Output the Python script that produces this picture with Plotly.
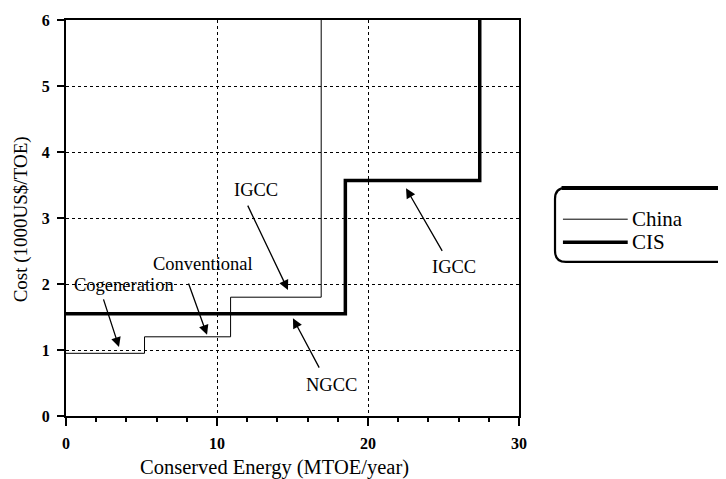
import plotly.graph_objects as go

# China supply curve: cumulative conserved energy (MTOE/year) at step starts, cost (1000 US$/TOE)
china_energy = [0, 5.2, 10.9, 16.9]
china_cost = [0.95, 1.2, 1.8, 6.0]
# CIS supply curve
cis_energy = [0, 18.5, 27.4]
cis_cost = [1.55, 3.57, 6.0]

x_ticks = [0, 10, 20, 30]
y_ticks = [0, 1, 2, 3, 4, 5, 6]

# annotation labels: text, text position, arrow tail, arrow tip (data coords)
labels = ["Cogeneration", "Conventional", "IGCC", "NGCC", "IGCC"]
label_x = [3.84, 9.10, 12.58, 17.55, 25.70]
label_y = [1.99, 2.30, 3.42, 0.47, 2.26]
tail_x = [2.45, 8.08, 11.99, 16.82, 24.97]
tail_y = [1.79, 2.03, 3.21, 0.71, 2.48]
tip_x = [3.51, 9.34, 14.70, 15.03, 22.52]
tip_y = [1.045, 1.23, 1.91, 1.48, 3.45]

FONT = "Liberation Serif"

fig = go.Figure()
fig.add_trace(go.Scatter(x=china_energy, y=china_cost, mode="lines", line_shape="hv",
                         line=dict(color="black", width=1), name="China", cliponaxis=False))
fig.add_trace(go.Scatter(x=cis_energy, y=cis_cost, mode="lines", line_shape="hv",
                         line=dict(color="black", width=3.5), name="CIS", cliponaxis=False))

for t, lx, ly, ax, ay, px, py in zip(labels, label_x, label_y, tail_x, tail_y, tip_x, tip_y):
    fig.add_annotation(x=lx, y=ly, text=t, showarrow=False, xanchor="center", yanchor="middle",
                       font=dict(family=FONT, size=18.5, color="black"))
    fig.add_annotation(x=px, y=py, ax=ax, ay=ay, axref="x", ayref="y", text="",
                       showarrow=True, arrowhead=2, arrowsize=1.5, arrowwidth=1.3,
                       arrowcolor="black")

# axis titles
fig.add_annotation(x=0.461, y=-0.129, xref="paper", yref="paper", showarrow=False,
                   xanchor="center", yanchor="middle",
                   text="Conserved Energy (MTOE/year)",
                   font=dict(family=FONT, size=20.5, color="black"))
fig.add_annotation(x=-0.099, y=0.497, xref="paper", yref="paper", showarrow=False,
                   xanchor="center", yanchor="middle",
                   text="Cost (1000US$/TOE)", textangle=-90,
                   font=dict(family=FONT, size=19, color="black"))

# legend box (drawn manually)
L, R, T, B = 1.0795, 1.48, 0.576, 0.389
rx, ry = 0.024, 0.028
path = (f"M {L+rx},{T} L {R},{T} L {R},{B} L {L+rx},{B} "
        f"Q {L},{B} {L},{B+ry} L {L},{T-ry} Q {L},{T} {L+rx},{T} Z")
fig.add_shape(type="path", path=path, xref="paper", yref="paper",
              line=dict(color="black", width=2.2))
fig.add_shape(type="line", xref="paper", yref="paper", x0=L+rx*0.6, x1=R, y0=T, y1=T,
              line=dict(color="black", width=4))
leg_names = ["China", "CIS"]
leg_widths = [1, 3.5]
leg_y = [0.497, 0.439]
for n, w, yy in zip(leg_names, leg_widths, leg_y):
    fig.add_shape(type="line", xref="paper", yref="paper", x0=1.097, x1=1.240, y0=yy, y1=yy,
                  line=dict(color="black", width=w))
    fig.add_annotation(x=1.245, y=yy, xref="paper", yref="paper", text=n, showarrow=False,
                       xanchor="left", yanchor="middle",
                       font=dict(family=FONT, size=21, color="black"))

axis_common = dict(showline=True, linecolor="black", linewidth=2, mirror=True,
                   showgrid=True, gridcolor="black", gridwidth=1, griddash="dot",
                   zeroline=False, ticks="outside", tickcolor="black", automargin=False,
                   tickfont=dict(family=FONT, size=16, color="black", weight="bold"))

fig.update_xaxes(range=[0, 30], tickvals=x_ticks, ticklen=8, tickwidth=1.5,
                 ticklabelstandoff=4,
                 minor=dict(dtick=2, ticks="outside", ticklen=4, tickcolor="black", showgrid=False),
                 **axis_common)
fig.update_yaxes(range=[0, 6], tickvals=y_ticks, ticklen=7, tickwidth=1.5,
                 ticklabelstandoff=4,
                 **axis_common)

# page body has an 8px margin; offset margins so the plot area lands where the reference has it
fig.update_layout(width=726, height=479, margin=dict(l=58, r=215, t=12, b=71),
                  paper_bgcolor="white", plot_bgcolor="white", showlegend=False,
                  font=dict(family=FONT, color="black"))

fig.write_html("out.html")
